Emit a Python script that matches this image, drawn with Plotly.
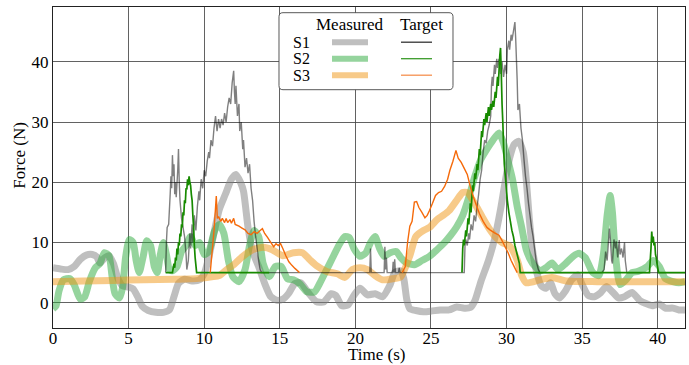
import plotly.graph_objects as go

# ---------------- data (time in s, force in N) ----------------
s1_meas_t = [0.0, 0.5, 1.0, 1.4, 1.8, 2.2, 2.6, 2.9, 3.1, 3.4, 3.7, 4.0, 4.3, 4.6, 5.0, 5.3, 5.6, 5.9, 6.3, 6.8,
             7.3, 7.7, 8.0, 8.3, 8.7, 9.2, 9.7, 10.0, 10.3, 10.6, 11.0, 11.4, 11.8, 12.1, 12.4, 12.6, 12.9, 13.2,
             13.6, 14.0, 14.4, 14.8, 15.2, 15.6, 16.0, 16.4, 16.9, 17.4, 17.9, 18.4, 18.7, 19.1, 19.5, 19.9, 20.3,
             20.8, 21.3, 21.8, 22.3, 22.6, 23.0, 23.2, 23.4, 23.6, 24.0, 24.5, 25.0, 25.6, 26.2, 26.7, 27.2, 27.6,
             27.9, 28.3, 28.8, 29.2, 29.6, 29.9, 30.2, 30.5, 30.8, 31.1, 31.3, 31.5, 31.7, 32.0, 32.3, 32.6, 32.9,
             33.2, 33.5, 33.9, 34.3, 34.7, 35.0, 35.4, 35.8, 36.2, 36.6, 37.0, 37.4, 37.8, 38.3, 38.8, 39.3, 39.7,
             40.1, 40.5, 41.0, 41.4, 41.8]
s1_meas_f = [5.8, 5.6, 5.5, 6.0, 7.2, 7.9, 8.0, 7.6, 6.6, 7.4, 7.8, 6.5, 4.0, 2.8, 2.6, 2.3, 1.0, -0.6, -1.3, -1.6,
             -1.6, -1.2, 1.0, 3.2, 3.9, 3.6, 3.8, 4.8, 7.5, 11.0, 15.5, 18.0, 20.5, 21.3, 20.0, 18.5, 12.5, 8.5,
             6.0, 3.2, 1.0, 0.4, 0.6, 1.6, 3.2, 3.3, 1.6, 0.2, 0.1, 1.5, 1.2, -0.5, -0.4, 1.2, 2.4,
             1.3, 1.5, 1.0, 3.0, 5.0, 5.3, 4.0, 0.5, -1.0, -1.3, -1.5, -1.4, -1.2, -1.2, -0.7, -0.9, -0.8,
             0.3, 3.5, 7.0, 10.5, 15.5, 20.0, 24.0, 26.3, 26.8, 25.0, 20.5, 14.0, 9.0, 5.0, 2.8, 2.4, 3.3,
             1.5, 0.8, 2.0, 3.8, 4.6, 3.0, 1.2, 1.0, 1.6, 2.7, 1.8, 0.8, 1.0, 1.7, 0.4, -0.2, -0.5,
             -0.2, -0.9, -0.9, -1.2, -1.2]

s2_meas_t = [0.0, 0.2, 0.4, 0.7, 1.1, 1.4, 1.8, 2.1, 2.4, 2.8, 3.1, 3.4, 3.7, 3.9, 4.1, 4.4, 4.6, 4.8, 5.05, 5.3,
             5.5, 5.7, 5.95, 6.2, 6.45, 6.7, 6.9, 7.1, 7.3, 7.5, 7.7, 7.9, 8.2, 8.5, 8.8, 9.1, 9.4, 9.7, 10.0,
             10.3, 10.7, 11.0, 11.3, 11.6, 11.9, 12.3, 12.7, 13.0, 13.3, 13.6, 13.9, 14.3, 14.7, 15.1, 15.5,
             15.9, 16.3, 16.8, 17.3, 17.7, 18.1, 18.5, 18.9, 19.3, 19.6, 19.9, 20.3, 20.7, 21.0, 21.3, 21.6,
             21.9, 22.3, 22.7, 23.0, 23.4, 23.9, 24.4, 24.9, 25.4, 25.9, 26.3, 26.7, 27.1, 27.5, 27.9, 28.3,
             28.7, 29.1, 29.5, 29.8, 30.1, 30.4, 30.7, 31.0, 31.3, 31.7, 32.2, 32.6, 33.0, 33.4, 33.9, 34.4,
             34.8, 35.2, 35.7, 36.1, 36.4, 36.65, 36.85, 37.0, 37.15, 37.5, 37.9, 38.3, 38.7, 39.3, 39.7,
             40.1, 40.5, 41.0, 41.4, 41.8]
s2_meas_f = [-1.0, -0.5, 2.0, 3.8, 4.0, 3.0, 0.6, 1.0, 3.5, 5.8, 6.5, 8.3, 7.8, 4.5, 1.5, 0.8, 2.5, 7.5, 10.5, 10.0,
             7.0, 5.0, 7.5, 10.3, 9.5, 6.0, 5.0, 8.0, 10.0, 8.0, 5.5, 5.3, 6.0, 8.5, 9.5, 11.0, 9.5, 10.0, 8.0,
             8.5, 12.0, 13.0, 11.5, 7.0, 4.3, 3.5, 5.5, 9.5, 12.0, 11.0, 6.5, 4.3, 6.0, 6.0, 4.0,
             3.8, 3.2, 1.8, 1.8, 3.5, 5.5, 7.5, 9.5, 11.0, 10.8, 9.0, 7.7, 8.3, 10.0, 11.0, 9.0,
             7.7, 8.3, 8.5, 7.5, 6.6, 6.3, 7.0, 7.7, 8.8, 10.0, 11.2, 12.6, 14.5, 17.5, 21.0, 23.8,
             25.5, 27.0, 28.2, 26.5, 23.5, 20.4, 16.0, 12.5, 8.8, 6.6, 5.3, 5.8, 6.6, 5.5, 6.5, 7.7,
             8.2, 7.5, 5.0, 4.5, 8.0, 14.5, 17.8, 15.0, 9.5, 3.0, 3.8, 5.0, 5.2, 6.0, 7.0,
             6.0, 4.0, 3.5, 3.3, 3.5]

s3_meas_t = [0.0, 2.0, 4.0, 6.0, 8.0, 9.5, 10.5, 11.0, 11.5, 11.9, 12.5, 13.2, 13.9, 14.5, 15.2, 15.9, 16.5, 17.0,
             17.4, 18.1, 18.8, 19.3, 19.8, 20.3, 20.8, 21.3, 21.8, 22.5, 23.0, 23.6, 24.0, 24.5, 24.9, 25.4, 25.8,
             26.2, 26.7, 27.1, 27.4, 28.0, 28.4, 28.9, 29.3, 29.7, 30.2, 30.7, 31.0, 31.3, 32.2, 33.0, 34.0,
             36.0, 38.0, 40.0, 41.8]
s3_meas_f = [3.5, 3.6, 3.7, 3.8, 3.9, 4.0, 4.3, 4.5, 5.5, 6.2, 7.6, 8.8, 9.2, 8.8, 7.8, 8.3, 8.3, 7.1,
             6.2, 5.2, 4.8, 4.2, 5.5, 5.8, 5.5, 4.5, 3.8, 4.0, 4.3, 7.8, 11.0, 12.0, 12.5, 13.8, 14.5,
             15.3, 17.0, 18.3, 18.3, 16.0, 14.2, 12.1, 10.8, 10.0, 9.4, 7.1, 4.5, 3.3, 3.8, 4.2, 3.6,
             3.5, 3.5, 3.5, 3.5]

s1_targ_t = [7.45, 7.5, 7.55, 7.65, 7.75, 7.8, 7.85, 7.9, 7.95, 8.0, 8.05, 8.1, 8.15, 8.25, 8.3, 8.35, 8.4, 8.5,
             8.6, 8.7, 8.8, 8.85, 8.95, 9.05, 9.1, 9.2, 9.25, 9.35, 9.45, 9.55, 9.65, 9.7, 9.8, 9.9, 10.0, 10.1,
             10.2, 10.3, 10.35, 10.45, 10.55, 10.65, 10.75, 10.85, 10.95, 11.05, 11.15, 11.25, 11.35, 11.45,
             11.55, 11.65, 11.75, 11.85, 11.95, 12.0, 12.05, 12.1, 12.2, 12.3, 12.35, 12.45, 12.55, 12.6, 12.7,
             12.8, 12.9, 13.0, 13.1, 13.2, 13.3, 13.4, 13.5, 13.6, 13.7, 13.8,
             20.95, 21.0, 21.05, 21.9, 21.95, 22.0, 22.05, 22.1, 22.45, 22.5, 22.55, 22.6, 22.65, 22.85, 22.9,
             22.95,
             27.2, 27.25, 27.3, 27.4, 27.5, 27.55, 27.65, 27.75, 27.85, 27.95, 28.05, 28.15, 28.25, 28.35,
             28.45, 28.55, 28.65, 28.75, 28.85, 28.95, 29.0, 29.05, 29.1, 29.2, 29.25, 29.35, 29.4, 29.5,
             29.6, 29.7, 29.8, 29.9, 30.0, 30.05, 30.15, 30.2, 30.3, 30.35, 30.45, 30.55, 30.6, 30.7, 30.75,
             30.85, 30.95, 31.05, 31.15, 31.25, 31.35, 31.45, 31.55, 31.65, 31.75, 31.85, 31.95, 32.1, 32.2,
             36.3, 36.45, 36.55, 36.65, 36.8, 36.85, 36.95, 37.0, 37.1, 37.2, 37.25, 37.35, 37.45, 37.5,
             37.6, 37.7, 37.8, 37.85, 37.95, 38.0, 41.8]
s1_targ_f = [5, 10, 12.5, 13, 18, 21, 19, 24.5, 21, 23, 18, 20, 17.5, 22, 25.5, 20, 17, 14,
             12.5, 11, 8, 5.5, 7, 11.5, 9, 13, 10, 14.5, 12, 16, 18.5, 17, 20.5, 19, 22, 21,
             23.5, 25, 24, 27, 26, 29, 31, 28.5, 30.5, 29, 30.5, 29.5, 31.5, 30,
             32.5, 34, 33, 36.5, 38.5, 35, 33, 36, 31, 33, 28.5, 30, 25.5, 27, 22.5,
             24, 21.5, 23, 19, 17, 13.5, 11, 9, 7, 5.5, 5,
             5, 9.0, 5, 5, 9.3, 5.5, 7.5, 5, 5, 6.8, 5, 7.2, 5, 5, 5.8,
             5,
             5, 9.5, 10.5, 9.5, 11.5, 10.5, 13, 12, 14.5, 13.5, 16, 18, 20.5, 22,
             25, 27, 26.5, 28.5, 29.5, 31, 36, 37.5, 36, 39.5, 38, 40.5, 39, 40.5,
             38, 40, 37.5, 39.5, 38, 42, 43.5, 42, 44.5, 43.5, 45, 46.6, 44, 37, 32,
             33, 29, 27, 23.8, 21, 19, 16.5, 14.5, 12.5, 11, 9, 7, 5.5, 5,
             5, 5.5, 8.5, 7, 12.3, 11, 7, 6.5, 10.5, 9, 10.2, 7.5, 10.4, 8,
             9, 7.5, 10, 7, 5, 5, 5]

s2_targ_t = [7.45, 7.9, 8.0, 8.05, 8.1, 8.15, 8.2, 8.25, 8.3, 8.35, 8.4, 8.45, 8.5, 8.55, 8.6, 8.65, 8.7, 8.75,
             8.8, 8.85, 8.9, 8.95, 9.0, 9.05, 9.1, 9.15, 9.2, 9.25, 9.3, 9.35, 9.4, 9.5, 14.3, None,
             27.05, 27.1, 27.15, 27.2, 27.3, 27.35, 27.45, 27.5, 27.6, 27.65, 27.75, 27.8, 27.9, 27.95, 28.05,
             28.1, 28.2, 28.25, 28.35, 28.4, 28.5, 28.55, 28.65, 28.7, 28.8, 28.85, 28.95, 29.0, 29.1, 29.15,
             29.25, 29.3, 29.4, 29.45, 29.55, 29.6, 29.65, 29.7, 29.75, 29.8, 29.85, 29.95, 30.05, 30.15,
             30.25, 30.35, 30.45, 30.55, 30.65, 30.75, 30.85, 30.9, 39.45, 39.55, 39.6, 39.65, 39.7, 39.75,
             39.8, 39.85, 39.9, 39.95, 40.05, 41.8]
s2_targ_f = [5, 5, 6.5, 5.8, 7.5, 7, 9, 8, 10, 9.5, 11.5, 11, 13, 12.5, 15, 14.5, 17, 16.5,
             19, 18.8, 20.5, 19.5, 21, 20, 19.5, 18, 17, 14.5, 12.5, 9.5, 7.5, 5, 5, None,
             5, 9, 10.5, 9.5, 12, 11, 14, 13, 16.5, 15, 19.5, 18.5, 21.5, 20.5, 23,
             22, 25.5, 24.5, 28.5, 27.5, 30.5, 29.5, 31.5, 30, 32.5, 31, 33, 32, 33.5, 32.5,
             35, 34, 37.5, 36, 41, 42.3, 38, 33, 30, 26, 23, 20, 17, 15,
             13.5, 12, 11, 9.5, 8.5, 7.5, 6.5, 5, 5, 9, 11.8, 10, 11, 9.5,
             10, 8, 7.5, 6.5, 5, 5]

s3_targ_t = [10.4, 10.65, 10.8, 10.87, 10.95, 11.1, 11.2, 11.35, 11.45, 11.55, 11.7, 11.8, 11.95, 12.05, 12.3,
             12.5, 12.7, 12.9, 13.1, 13.3, 13.5, 13.7, 13.85, 14.0, 14.2, 14.4, 14.6, 14.75, 14.9, 15.05, 15.2,
             15.4, 15.6, 15.8, 16.0, 16.3, None,
             23.1, 23.3, 23.45, 23.6, 23.75, 23.9, 24.05, 24.2, 24.4, 24.6, 24.75, 24.9, 25.1, 25.3, 25.5,
             25.7, 25.9, 26.1, 26.25, 26.45, 26.65, 26.8, 27.0, 27.2, 27.4, 27.6, 27.8, 28.0, 28.2, 28.45,
             28.7, 28.9, 29.2, 29.5, 29.7, 29.9, 30.1, 30.3, 30.5, 30.7]
s3_targ_f = [5, 12, 17.7, 14, 14.3, 13.5, 14, 13.3, 14, 13.3, 13.8, 13.2, 14, 13, 12.7,
             12.4, 12.1, 11.5, 11.3, 11.8, 11.5, 12.0, 12.3, 11.5, 10.8, 10.0, 9.3, 9.8, 9.5, 9.8, 9.0,
             7.8, 6.8, 6.2, 5.7, 5.0, None,
             5, 6, 10, 12.7, 13.5, 16.7, 16.8, 15.8, 15.0, 14.1, 14.5, 15.3, 16.5, 17.8, 18.3,
             18.5, 19.3, 20.5, 22.0, 23.5, 25.3, 24.0, 23.3, 22.3, 21.3, 19.3, 17.6, 16.2, 14.8, 13.5,
             12.5, 12.1, 11.6, 11.2, 10.3, 9.3, 8.3, 7.0, 6.0, 5.0]

x_ticks = [0, 5, 10, 15, 20, 25, 30, 35, 40]
y_ticks = [0, 10, 20, 30, 40]
series_names = ["S1", "S2", "S3"]

# ---------------- styles ----------------
meas_colors = ["rgba(128,128,128,0.5)", "rgba(44,170,60,0.5)", "rgba(240,150,20,0.5)"]
targ_colors = ["rgba(0,0,0,0.5)", "#178a00", "#f56a0a"]
targ_widths = [1.4, 1.7, 1.4]
legend_targ_colors = ["#333333", "#3a9a2a", "#f59050"]
FONT = "Liberation Serif"

fig = go.Figure()
for t, f, c in zip([s1_meas_t, s2_meas_t, s3_meas_t], [s1_meas_f, s2_meas_f, s3_meas_f], meas_colors):
    fig.add_trace(go.Scatter(x=t, y=f, mode="lines",
                             line=dict(color=c, width=7, shape="spline", smoothing=0.6),
                             showlegend=False, hoverinfo="skip"))
for t, f, c, w in zip([s1_targ_t, s2_targ_t, s3_targ_t], [s1_targ_f, s2_targ_f, s3_targ_f], targ_colors,
                      targ_widths):
    fig.add_trace(go.Scatter(x=t, y=f, mode="lines", line=dict(color=c, width=w, simplify=False),
                             showlegend=False, hoverinfo="skip", connectgaps=False))

# plot area in pixels: x 53..685, y 7..328
L, R, T, B = 53, 685, 7.3, 328.3
W, H = R - L, B - T
def px(x):
    return (x - L) / W
def py(y):
    return (B - y) / H

shapes = []
annotations = []
# legend box with rounded corners
bx0, bx1, by0, by1, rad = 279, 453, 13, 90, 4
def P(x, y):
    return f"{px(x):.5f},{py(y):.5f}"
legend_path = (f"M {P(bx0 + rad, by0)} L {P(bx1 - rad, by0)} Q {P(bx1, by0)} {P(bx1, by0 + rad)} "
               f"L {P(bx1, by1 - rad)} Q {P(bx1, by1)} {P(bx1 - rad, by1)} "
               f"L {P(bx0 + rad, by1)} Q {P(bx0, by1)} {P(bx0, by1 - rad)} "
               f"L {P(bx0, by0 + rad)} Q {P(bx0, by0)} {P(bx0 + rad, by0)} Z")
shapes.append(dict(type="path", xref="paper", yref="paper", path=legend_path,
                   fillcolor="white", line=dict(color="rgba(70,70,70,0.9)", width=1), layer="above"))
annotations.append(dict(text="Measured", x=px(350), y=py(25), xref="paper", yref="paper", showarrow=False,
                        font=dict(family=FONT, size=17, color="black"), xanchor="center", yanchor="middle"))
annotations.append(dict(text="Target", x=px(421.5), y=py(25), xref="paper", yref="paper", showarrow=False,
                        font=dict(family=FONT, size=17, color="black"), xanchor="center", yanchor="middle"))
row_y = [42.5, 59, 75.5]
for name, ry, mc, tc in zip(series_names, row_y, meas_colors, legend_targ_colors):
    annotations.append(dict(text=name, x=px(301), y=py(ry), xref="paper", yref="paper", showarrow=False,
                            font=dict(family=FONT, size=16, color="black"), xanchor="center", yanchor="middle"))
    shapes.append(dict(type="line", xref="paper", yref="paper", x0=px(332), x1=px(368), y0=py(ry), y1=py(ry),
                       line=dict(color=mc, width=6), layer="above"))
    shapes.append(dict(type="line", xref="paper", yref="paper", x0=px(401), x1=px(432), y0=py(ry), y1=py(ry),
                       line=dict(color=tc, width=1.3), layer="above"))

# axis titles
annotations.append(dict(text="Time (s)", x=px(376.5), y=py(355), xref="paper", yref="paper", showarrow=False,
                        font=dict(family=FONT, size=17, color="black"), xanchor="center", yanchor="middle"))
annotations.append(dict(text="Force (N)", x=px(20), y=py(156), xref="paper", yref="paper", showarrow=False,
                        textangle=-90, font=dict(family=FONT, size=17, color="black"),
                        xanchor="center", yanchor="middle"))

axis_common = dict(showline=True, mirror=True, linecolor="#222222", linewidth=1.2,
                   showgrid=True, gridcolor="rgba(70,70,70,0.85)", gridwidth=1, automargin=False,
                   zeroline=False, ticks="", tickfont=dict(family=FONT, size=17, color="black"))
fig.update_layout(
    template="none",
    font=dict(family=FONT, size=17, color="black"),
    width=689, height=365,
    margin=dict(l=L, r=689 - R, t=T, b=365 - B, pad=0),
    paper_bgcolor="white", plot_bgcolor="white",
    xaxis=dict(range=[0, 41.8], tickvals=x_ticks, ticklabelstandoff=-6, **axis_common),
    yaxis=dict(range=[-4.2, 49.1], tickvals=y_ticks, **axis_common),
    shapes=shapes, annotations=annotations, showlegend=False,
)
fig.write_html("out.html", config={"displayModeBar": False},
               post_script="document.body.style.margin='0';document.body.style.overflow='hidden';")
